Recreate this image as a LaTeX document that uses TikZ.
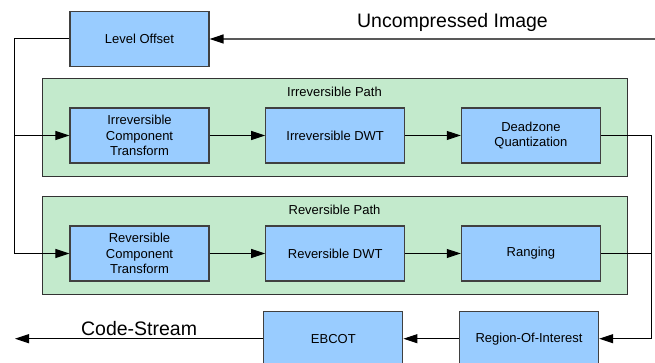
\documentclass[tikz,border=0pt]{standalone}
\usepackage{fontspec}
\setmainfont{Liberation Sans}
\usepackage{xcolor}
\usetikzlibrary{arrows.meta, positioning}
\definecolor{boxblue}{HTML}{99CCFF}
\definecolor{pathgreen}{HTML}{C3EACC}
\definecolor{edgegray}{HTML}{404040}
\tikzset{
    codecdiagram/.style={>={Triangle[length=14pt, width=9pt]}, x=1pt, y=1pt,
        font=\fontsize{13}{15.5}\selectfont, node distance=55.5pt},
    block/.style={draw=edgegray, line width=1.2pt, fill=boxblue, minimum width=139pt,
        minimum height=55pt, align=center, inner sep=2pt},
    group/.style={draw=black!80, line width=0.9pt, fill=pathgreen, minimum width=585pt,
        minimum height=98pt, inner sep=0pt},
    link/.style={draw=black, line width=1pt},
    % big labels on the input and output arrows
    bigtext/.style={font=\fontsize{19.5}{22}\selectfont},
}
\begin{document}
\begin{tikzpicture}[codecdiagram]
    \useasboundingbox (0,0) rectangle (655,363);
    \clip (0,0) rectangle (655,363);

    % the two coding paths
    \node[group] (irr) at (334.5,236) {};
    \node[below=6pt of irr.north] {Irreversible Path};
    \node[group] (rev) at (334.5,118) {};
    \node[below=6pt of rev.north] {Reversible Path};

    \node[block]                  (lvl) at (139.5,324) {Level Offset};
    \node[block]                  (ict) at (139.5,227.5) {Irreversible\\Component\\Transform};
    \node[block, right=of ict]    (idwt) {Irreversible DWT};
    \node[block, right=of idwt]   (dz)   {Deadzone\\Quantization};
    \node[block]                  (rct) at (139.5,109.5) {Reversible\\Component\\Transform};
    \node[block, right=of rct]    (rdwt) {Reversible DWT};
    \node[block, right=of rdwt]   (rng)  {Ranging};
    \node[block]                  (roi) at (529,24.3) {Region-Of-Interest};
    \node[block, left=of roi]     (ebcot) {EBCOT};

    \coordinate (in)  at (655,324);
    \coordinate (out) at (15,24.3);
    \coordinate (lft) at (14,324);
    \coordinate (rgt) at (651,227.5);

    \draw[-{Triangle[length=14pt, width=9pt, color=black]}, draw=black!65, line width=1.5pt] (in) -- (lvl);
    \node[bigtext] at (452.5,341) {Uncompressed Image};
    \draw[link, ->] (lvl) -- (lft) |- (rct);
    \draw[link, ->] (lft |- ict) -- (ict);
    \draw[link, ->] (ict) -- (idwt);
    \draw[link, ->] (idwt) -- (dz);
    \draw[link, ->] (rct) -- (rdwt);
    \draw[link, ->] (rdwt) -- (rng);
    \draw[link, ->] (dz) -- (rgt) |- (roi);
    \draw[link] (rng) -- (rgt |- rng);
    \draw[link, ->] (roi) -- (ebcot);
    \draw[link, ->] (ebcot) -- node[bigtext, above=-1pt] {Code-Stream} (out);
\end{tikzpicture}
\end{document}
